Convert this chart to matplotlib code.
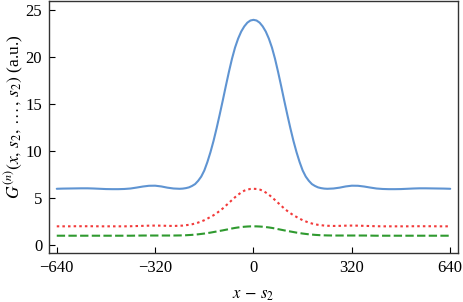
import numpy as np
import matplotlib
matplotlib.use('Agg')
import matplotlib.pyplot as plt

# x - s2 grid (finer near the peak)
x_half = [0, 10, 20, 30, 40, 50, 60, 70, 80, 90, 100, 110, 120, 130, 140, 150, 160, 170, 180, 190,
          200, 210, 220, 230, 240, 260, 280, 300, 320, 340, 360, 380, 400, 420, 440, 460, 480,
          500, 520, 540, 560, 580, 600, 620, 640]

# n = 4 (blue, solid)
g4_half = [24.0, 23.93, 23.7, 23.3, 22.75, 22.0, 21.05, 19.85, 18.45, 16.95, 15.4, 13.9, 12.45, 11.1,
           9.9, 8.85, 7.95, 7.3, 6.85, 6.5, 6.3, 6.15, 6.07, 6.02, 6.0, 6.03, 6.12, 6.25, 6.33, 6.32,
           6.24, 6.13, 6.03, 5.98, 5.96, 5.96, 5.97, 6.0, 6.03, 6.05, 6.05, 6.04, 6.03, 6.02, 6.0]
# n = 3 (red, dotted)
g3_half = [6.0, 5.98, 5.92, 5.8, 5.6, 5.37, 5.1, 4.8, 4.5, 4.2, 3.9, 3.64, 3.4, 3.18, 3.0, 2.82, 2.65,
           2.52, 2.4, 2.3, 2.22, 2.16, 2.12, 2.08, 2.06, 2.04, 2.05, 2.07, 2.08, 2.07, 2.05, 2.03, 2.01,
           2.0, 2.0, 2.0, 2.0, 2.0, 2.01, 2.01, 2.01, 2.01, 2.0, 2.0, 2.0]
# n = 2 (green, dashed)
g2_half = [2.0, 1.995, 1.98, 1.955, 1.92, 1.88, 1.83, 1.77, 1.7, 1.635, 1.57, 1.51, 1.45, 1.39, 1.33,
           1.28, 1.23, 1.19, 1.15, 1.12, 1.09, 1.07, 1.05, 1.04, 1.03, 1.02, 1.02, 1.02, 1.02, 1.02,
           1.02, 1.01, 1.0, 1.0, 1.0, 1.0, 1.0, 1.0, 1.0, 1.0, 1.0, 1.0, 1.0, 1.0, 1.0]

xticks = [-640, -320, 0, 320, 640]
yticks = [0, 5, 10, 15, 20, 25]

# curves are symmetric about 0
x = np.concatenate([-np.array(x_half[:0:-1]), x_half])
g4 = np.concatenate([g4_half[:0:-1], g4_half])
g3 = np.concatenate([g3_half[:0:-1], g3_half])
g2 = np.concatenate([g2_half[:0:-1], g2_half])

plt.rcParams['font.family'] = ['Liberation Serif', 'DejaVu Serif']
plt.rcParams['mathtext.fontset'] = 'stix'
plt.rcParams['font.size'] = 12

fig = plt.figure(figsize=(4.63, 3.02), dpi=100)
ax = fig.add_axes([0.106, 0.162, 0.883, 0.836])

ax.plot(x, g4, color='#5f94d2', lw=1.5, solid_capstyle='round')
ax.plot(x, g3, color='#f23a3a', lw=1.5, linestyle=(0, (1.2, 1.5)))
ax.plot(x, g2, color='#2f9a2f', lw=1.5, linestyle=(0, (4, 1.6)))

ax.set_xlim(-665, 665)
ax.set_ylim(-0.85, 26.05)
ax.set_xticks(xticks)
ax.set_xticklabels(['\N{MINUS SIGN}640', '\N{MINUS SIGN}320', '0', '320', '640'])
ax.set_yticks(yticks)
ax.tick_params(direction='in', length=4, width=0.8, top=False, right=False, pad=5)
for s in ax.spines.values():
    s.set_color('#333333')
    s.set_linewidth(1.0)

ax.set_xlabel(r'$x\,-\,s_2$', labelpad=8)
ax.set_ylabel(r'$G^{(n)}(x,\,s_2,\,\ldots\,,\,s_2)$ (a.u.)', fontsize=12.5)
ax.yaxis.set_label_coords(-0.058, 0.54)

fig.savefig('out.png', dpi=100)
